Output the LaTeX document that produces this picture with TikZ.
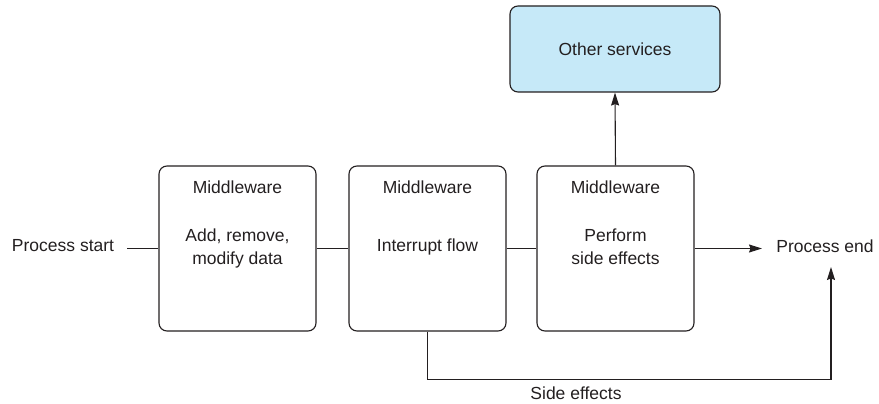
\documentclass[tikz,border=0pt]{standalone}
\usepackage{fontspec}
\setmainfont{Liberation Sans}
\usetikzlibrary{arrows.meta}
\definecolor{ink}{HTML}{231F20}
\definecolor{svcblue}{HTML}{C6E9F8}
\begin{document}
\begin{tikzpicture}[x=1pt,y=-1pt,
  every node/.style={text=ink,font=\fontsize{17.5pt}{23pt}\selectfont},
  mwbox/.style={draw=ink,line width=1.1pt,rounded corners=8pt,minimum width=157pt,minimum height=165pt,inner sep=0pt},
  svcbox/.style={draw=ink,line width=1.1pt,rounded corners=8pt,fill=svcblue,minimum width=210pt,minimum height=86pt,inner sep=0pt},
  txt/.style={align=center,inner sep=0pt},
  conn/.style={draw=ink,line width=1.1pt},
  arr/.style={conn,-{Stealth[length=13pt,width=8pt,inset=1.5pt]}}]
\useasboundingbox (0,0) rectangle (879,404);
% boxes
\node[mwbox] (b1) at (237.5,248.5) {};
\node[mwbox] (b2) at (427.5,248.5) {};
\node[mwbox] (b3) at (615.5,248.5) {};
\node[svcbox] (svc) at (615,49) {Other services};
% box texts
\node[txt] (b1h) at (237.5,187) {Middleware};
\node[txt] (b1t) at (237.5,248) {Add, remove,\\modify data};
\node[txt] (b2h) at (427.5,187) {Middleware};
\node[txt] (b2t) at (427.5,247) {Interrupt flow};
\node[txt] (b3h) at (615.5,187) {Middleware};
\node[txt] (b3t) at (615.5,246.5) {Perform\\side effects};
% outer labels
\node[txt,inner xsep=0pt] (ps) at (63,246) {Process start};
\node[txt] (pe) at (825,246) {Process end};
\node[txt] (se) at (576,393) {Side effects};
\coordinate (psend) at (127,248.5);
\coordinate (petip) at (762,248.5);
\coordinate (pein) at (831,267);
% connectors
\draw[conn] (psend) -- (b1.west);
\draw[conn] (b1.east) -- (b2.west);
\draw[conn] (b2.east) -- (b3.west);
\draw[arr] (b3.east) -- (petip);
\draw[arr] (b3.north) -- (svc.south);
\draw[arr] (b2.south) -- ++(0,48) -| (pein);
\end{tikzpicture}
\end{document}
